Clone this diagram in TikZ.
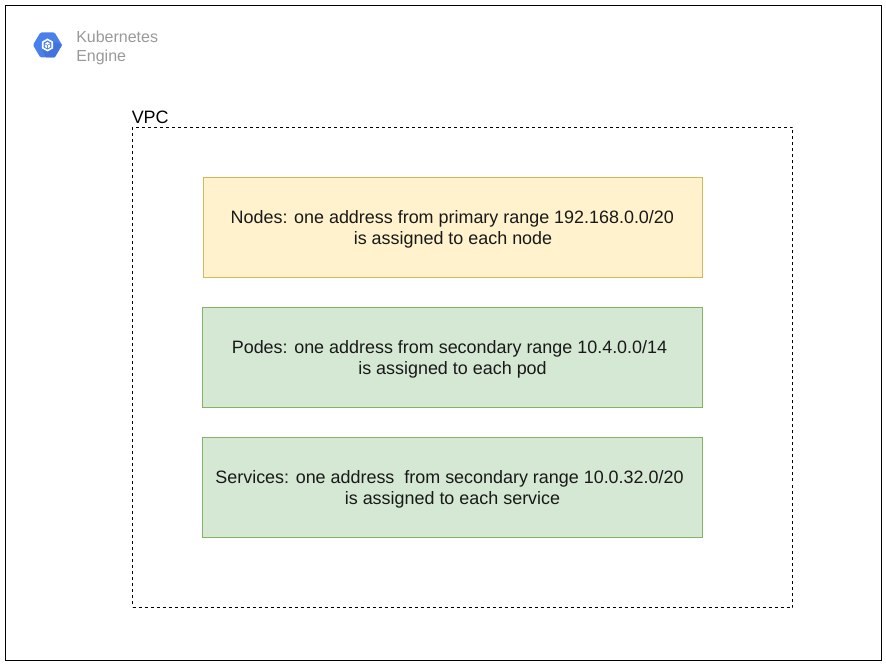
\documentclass[tikz,border=0pt]{standalone}
\usepackage{fontspec}
\setmainfont{Liberation Sans}
\usetikzlibrary{calc}
\definecolor{yfill}{HTML}{FFF2CC}
\definecolor{ydraw}{HTML}{D6B656}
\definecolor{gfill}{HTML}{D5E8D4}
\definecolor{gdraw}{HTML}{82B366}
\definecolor{gtext}{HTML}{999999}
\definecolor{hexblue}{HTML}{4A80EC}
\definecolor{hexdark}{HTML}{4374DC}
\newcommand{\firstlinestrut}{\rule{0pt}{12.2pt}}
\tikzset{
  infobox/.style={draw, line width=0.75pt, outer sep=0pt, minimum height=75pt, inner sep=0pt, align=center, font=\fontsize{13.45}{15.75}\selectfont, text=black!90},
  yellowbox/.style={infobox, fill=yfill, draw=ydraw},
  greenbox/.style={infobox, fill=gfill, draw=gdraw},
  px/.style={x=0.75pt,y=-0.75pt}
}
\begin{document}
\begin{tikzpicture}[px]
\useasboundingbox (0,0) rectangle (886,666);
\node[draw=black, outer sep=0pt, line width=0.75pt, minimum width=657pt, minimum height=490.5pt, inner sep=0pt, anchor=north west] (frame) at (5,6) {};
\node[draw=black, outer sep=0pt, dashed, dash pattern=on 2.25pt off 2.25pt, line width=0.75pt, minimum width=495pt, minimum height=360pt, inner sep=0pt, anchor=north west] (vpc) at (132.5,127.5) {};
\node[anchor=south west, inner sep=0pt, font=\fontsize{13.45}{15}\selectfont] (vpclabel) at (131.5,124) {VPC};
\node[yellowbox, minimum width=374.25pt, anchor=north west] (nodes) at (203.5,177.5) {\firstlinestrut Nodes: one address from primary range 192.168.0.0/20\hspace*{1pt}\\is assigned to each node};
\node[greenbox, minimum width=375pt, anchor=north west] (pods) at (202.5,307.5) {\firstlinestrut Podes: one address from secondary range 10.4.0.0/14\hspace*{4.5pt}\\is assigned to each pod};
\node[greenbox, minimum width=375pt, anchor=north west] (services) at (202.5,437.5) {\firstlinestrut Services: one address\ \ from secondary range 10.0.32.0/20\hspace*{4.5pt}\\is assigned to each service};
% icon
\fill[hexblue, rounded corners=1pt] (33,45) -- (40.3,32.5) -- (54.7,32.5) -- (62,45) -- (54.7,57.5) -- (40.3,57.5) -- cycle;
\fill[hexdark] (53.2,41.7) -- (61,44) -- (62,45) -- (54.7,57.5) -- (46,57.5) -- (41.8,48.3) -- cycle;
\fill[white] (47.5,38.5) -- (53.2,41.7) -- (53.2,48.3) -- (47.5,51.5) -- (41.8,48.3) -- (41.8,41.7) -- cycle;
\fill[hexblue] (47.5,40.5) -- (51.4,42.7) -- (51.4,47.3) -- (47.5,49.5) -- (43.6,47.3) -- (43.6,42.7) -- cycle;
\fill[white] (47.5,42) -- (50,43.4) -- (47.5,44.8) -- (45,43.4) -- cycle;
\fill[white] (44.8,44.2) -- (47,45.5) -- (47,48.2) -- (44.8,46.9) -- cycle;
\fill[white] (50.2,44.2) -- (48,45.5) -- (48,48.2) -- (50.2,46.9) -- cycle;
\node[anchor=north west, inner sep=0pt, align=left, text=gtext, font=\fontsize{12}{14.5}\selectfont] (gke) at (76,30.5) {Kubernetes\\Engine};
\end{tikzpicture}
\end{document}
